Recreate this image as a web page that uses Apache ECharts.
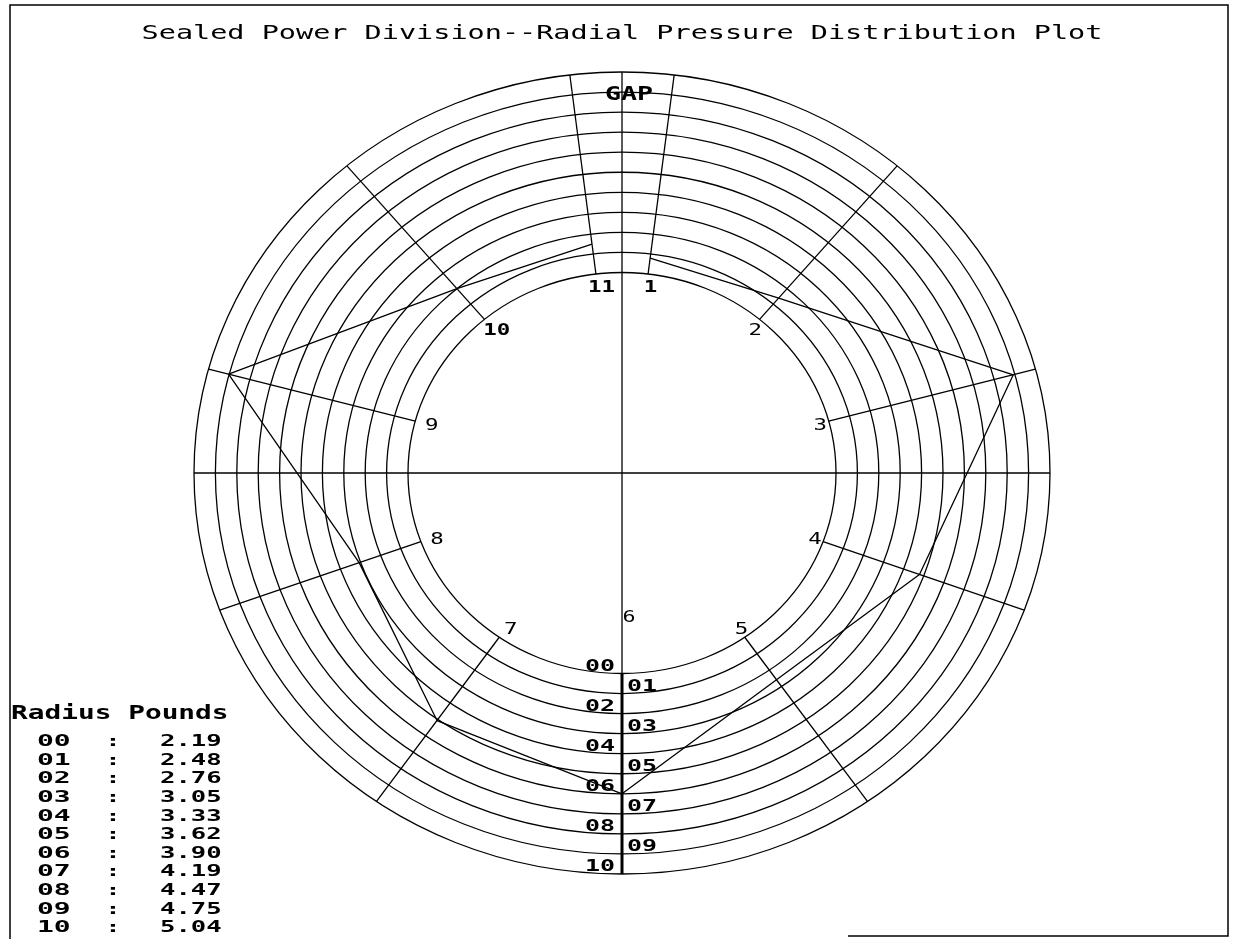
<!DOCTYPE html>
<html>
<head>
<meta charset="utf-8">
<script src="https://cdn.jsdelivr.net/npm/echarts@6/dist/echarts.min.js"></script>
<style>
  html, body { margin: 0; padding: 0; background: #fff; }
  #chart { width: 1233px; height: 939px; }
</style>
</head>
<body>
<div id="chart"></div>
<script>
// ---------------- data ----------------
const chartTitle = 'Sealed Power Division--Radial Pressure Distribution Plot';
const ringLabels = ['00', '01', '02', '03', '04', '05', '06', '07', '08', '09', '10'];
const ringPounds = [2.19, 2.48, 2.76, 3.05, 3.33, 3.62, 3.90, 4.19, 4.47, 4.75, 5.04];
const spokeLabels = ['1', '2', '3', '4', '5', '6', '7', '8', '9', '10', '11'];
const spokeAngles = [7, 40, 75, 110, 145, 180, 215, 250, 285, 320, 353];   // degrees, clockwise from top
const spokePounds = [2.42, 2.59, 4.73, 3.56, 2.93, 3.90, 3.64, 3.07, 4.76, 2.76, 2.62];
const gapLabel = 'GAP';
const tableHeader = 'Radius Pounds';

// ---------------- layout helpers ----------------
const INNER = 10;                                // radius of ring 00 (data units)
const OUTER = INNER + ringLabels.length - 1;     // radius of ring 10
const MONO = '"DejaVu Sans Mono", "Liberation Mono", monospace';

function spokeAngle(i) { return spokeAngles[i] * Math.PI / 180; }
function poundsToRing(p) {
  const n = ringPounds.length;
  for (let i = 0; i < n - 1; i++) {
    if (p <= ringPounds[i + 1] || i === n - 2) {
      return i + (p - ringPounds[i]) / (ringPounds[i + 1] - ringPounds[i]);
    }
  }
  return 0;
}
function polar(r, a) { return [r * Math.sin(a), r * Math.cos(a)]; }

const LW = 1.3;

function textEl(x, y, text, o) {
  return {
    type: 'text', x: x, y: y, scaleX: o.sx || 1, silent: true,
    style: {
      text: text, fill: '#000',
      fontFamily: MONO, fontSize: o.size, fontWeight: o.weight || 'normal',
      align: o.align || 'center', textAlign: o.align || 'center',
      verticalAlign: 'middle', textVerticalAlign: 'middle'
    }
  };
}

// ---------------- series ----------------
const ringSeries = {
  type: 'custom', coordinateSystem: 'cartesian2d', silent: true, animation: false, z: 2,
  data: ringLabels.map((l, i) => [i, 0]),
  renderItem(params, api) {
    const k = params.dataIndex;
    const c = api.coord([0, 0]);
    const e = api.coord([INNER + k, INNER + k]);
    return {
      type: 'ellipse',
      shape: { cx: c[0], cy: c[1], rx: Math.abs(e[0] - c[0]), ry: Math.abs(e[1] - c[1]) },
      style: { fill: 'none', stroke: '#000', lineWidth: LW }
    };
  }
};

const spokeSeries = {
  type: 'custom', coordinateSystem: 'cartesian2d', silent: true, animation: false, z: 3,
  data: spokeLabels.map((l, i) => [i, 0]),
  renderItem(params, api) {
    const a = spokeAngle(params.dataIndex);
    const p1 = api.coord(polar(INNER, a));
    const p2 = api.coord(polar(OUTER, a));
    return {
      type: 'line',
      shape: { x1: p1[0], y1: p1[1], x2: p2[0], y2: p2[1] },
      style: { stroke: '#000', lineWidth: LW }
    };
  }
};

const axesSeries = {
  type: 'custom', coordinateSystem: 'cartesian2d', silent: true, animation: false, z: 3,
  data: [[0, 0]],
  renderItem(params, api) {
    const l = api.coord([-OUTER, 0]), r = api.coord([OUTER, 0]);
    const t = api.coord([0, OUTER]), b = api.coord([0, -OUTER]);
    const bi = api.coord([0, -INNER]);
    return {
      type: 'group',
      children: [
        { type: 'line', shape: { x1: l[0], y1: l[1], x2: r[0], y2: r[1] }, style: { stroke: '#000', lineWidth: LW } },
        { type: 'line', shape: { x1: t[0], y1: t[1], x2: b[0], y2: b[1] }, style: { stroke: '#000', lineWidth: LW } },
        { type: 'line', shape: { x1: bi[0], y1: bi[1], x2: b[0], y2: b[1] }, style: { stroke: '#000', lineWidth: 3 } }
      ]
    };
  }
};

const ringLabelSeries = {
  type: 'custom', coordinateSystem: 'cartesian2d', silent: true, animation: false, z: 6,
  data: ringLabels.map((l, i) => [i, 0]),
  renderItem(params, api) {
    const k = params.dataIndex;
    const p = api.coord([0, -(INNER + k)]);
    const left = k % 2 === 0;
    return textEl(left ? p[0] - 7 : p[0] + 5, p[1] - 7, ringLabels[k],
      { size: 16, weight: 'bold', sx: 1.56, align: left ? 'right' : 'left' });
  }
};

const spokeLabelSeries = {
  type: 'custom', coordinateSystem: 'cartesian2d', silent: true, animation: false, z: 6,
  data: spokeLabels.map((l, i) => [i, 0]),
  renderItem(params, api) {
    const i = params.dataIndex;
    const a = spokeAngle(i);
    const txt = spokeLabels[i];
    const bold = txt.length > 1 || txt === '1';
    if (i === 5) {
      const p = api.coord([0, -7.2]);
      return textEl(p[0] + 7, p[1], txt, { size: 16, sx: 1.35 });
    }
    const p = api.coord(polar(9.4, a));
    return textEl(p[0] + 4, p[1] + 2, txt, { size: 16, sx: 1.4, weight: bold ? 'bold' : 'normal' });
  }
};

const gapSeries = {
  type: 'custom', coordinateSystem: 'cartesian2d', silent: true, animation: false, z: 6,
  data: [[0, 0]],
  renderItem(params, api) {
    const p = api.coord([0, 18.85]);
    return textEl(p[0] + 7, p[1], gapLabel, { size: 19, weight: 'bold', sx: 1.4 });
  }
};

const pressureSeries = {
  type: 'line', name: 'Pressure', silent: true, animation: false, z: 5,
  symbol: 'none',
  lineStyle: { color: '#000', width: LW },
  data: spokePounds.map((p, i) => polar(INNER + poundsToRing(p), spokeAngle(i)))
};

// ---------------- graphic: title, table, frame ----------------
const graphics = [];
graphics.push({
  type: 'polyline', silent: true,
  shape: { points: [[848, 936], [1228, 936], [1228, 5], [10, 5], [10, 939]] },
  style: { fill: 'none', stroke: '#000', lineWidth: 1.5 }
});
graphics.push(textEl(622, 34, chartTitle, { size: 19, sx: 1.5 }));
graphics.push(textEl(11, 714, tableHeader, { size: 20, weight: 'bold', sx: 1.39, align: 'left' }));
ringLabels.forEach((lab, i) => {
  const y = 742 + i * 18.6;
  graphics.push(textEl(37, y, lab, { size: 16, weight: 'bold', sx: 1.75, align: 'left' }));
  graphics.push(textEl(113, y, ':', { size: 16, weight: 'bold', sx: 1.6 }));
  graphics.push(textEl(160, y, ringPounds[i].toFixed(2), { size: 16, weight: 'bold', sx: 1.6, align: 'left' }));
});

const chart = echarts.init(document.getElementById('chart'), null, { renderer: 'canvas' });
chart.setOption({
  animation: false,
  backgroundColor: '#fff',
  grid: { left: 194, right: 183, top: 72, bottom: 65 },
  xAxis: { type: 'value', min: -OUTER, max: OUTER, show: false },
  yAxis: { type: 'value', min: -OUTER, max: OUTER, show: false },
  graphic: graphics,
  series: [ringSeries, spokeSeries, axesSeries, pressureSeries, ringLabelSeries, spokeLabelSeries, gapSeries]
});
</script>
</body>
</html>
